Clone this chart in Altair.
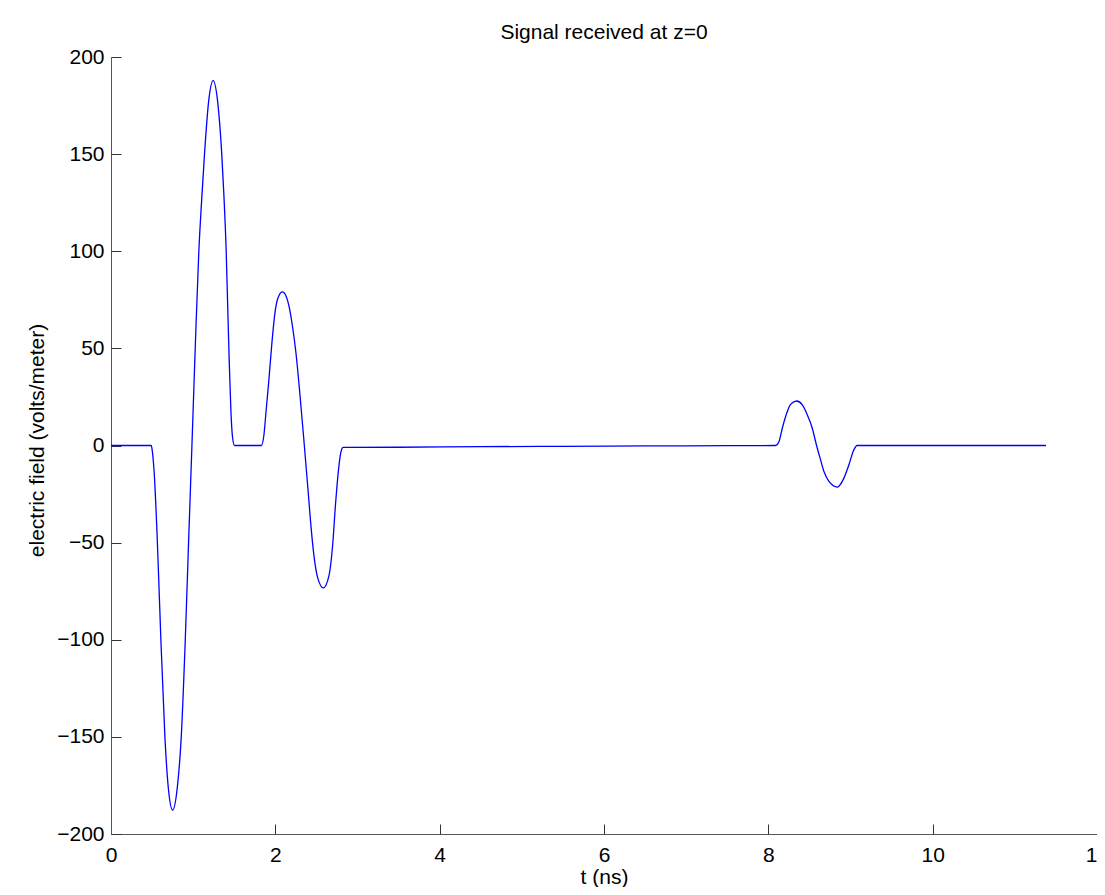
import altair as alt
import pandas as pd

# Time (ns) and electric field (volts/meter)
t_ns = [0.0, 0.49, 0.50, 0.515, 0.53, 0.545, 0.56, 0.575, 0.607, 0.656, 0.697, 0.75, 0.807,
        0.855, 0.904, 0.944, 0.985, 1.025, 1.069, 1.10, 1.138, 1.188, 1.243, 1.298,
        1.348, 1.375, 1.402, 1.42, 1.44, 1.46, 1.48, 1.503,
        1.83, 1.86, 1.887, 1.92, 1.956, 1.997, 2.025, 2.085, 2.13, 2.17, 2.21, 2.25,
        2.30, 2.353, 2.40, 2.441, 2.48, 2.515, 2.584, 2.653, 2.696, 2.733, 2.77,
        2.80, 2.826,
        2.9, 3.5, 4.5, 5.5, 6.5, 7.5, 8.09,
        8.13, 8.17, 8.231, 8.271, 8.345, 8.414, 8.475, 8.535, 8.587, 8.636,
        8.677, 8.738, 8.84, 8.92, 8.98, 9.04, 9.08, 11.38]
e_field = [0.0, 0.0, -2.0, -8.0, -17.0, -30.0, -45.0, -62.0, -100.0, -150.0, -176.0, -187.7, -176.0,
           -150.0, -100.0, -50.0, 0.0, 50.0, 100.0, 124.0, 150.0, 177.0, 187.8, 177.0,
           150.0, 128.0, 100.0, 72.0, 42.0, 17.0, 4.0, 0.0,
           0.0, 5.0, 17.5, 33.0, 51.7, 68.8, 75.0, 79.1, 77.0, 71.0, 61.0, 48.0,
           26.0, 0.0, -24.0, -45.0, -60.0, -68.0, -73.3, -67.0, -52.0, -30.0, -12.0,
           -3.0, -1.0,
           -1.0, -0.9, -0.6, -0.4, -0.2, -0.1, 0.0,
           2.0, 8.9, 17.5, 21.2, 22.9, 20.9, 15.7, 8.9, 0.0, -7.4,
           -13.4, -18.5, -21.4, -16.8, -10.0, -2.3, 0.0, 0.0]

x_ticks = [0, 2, 4, 6, 8, 10, 12]
y_ticks = [-200, -150, -100, -50, 0, 50, 100, 150, 200]

df = pd.DataFrame({"t": t_ns, "E": e_field})

PW, PH = 986, 777
PAD_L, PAD_T, PAD_R, PAD_B = 103, 49, 0, 53
FONT = "Arial"
FS = 21

xscale = alt.Scale(domain=[0, 12], nice=False, zero=False)
yscale = alt.Scale(domain=[-200, 200], nice=False, zero=False)

base = alt.Chart(df)

line = base.mark_line(color="#0000ff", strokeWidth=1.3, interpolate="monotone").encode(
    x=alt.X("t:Q", scale=xscale,
            axis=alt.Axis(orient="bottom", values=x_ticks, ticks=False, tickSize=0,
                          grid=False, domain=True, domainColor="#555555", domainWidth=1,
                          labelFont=FONT, labelFontSize=FS, labelColor="black",
                          labelBaseline="alphabetic", labelPadding=27,
                          labelFlush=False, labelOverlap=False,
                          title="t (ns)", titleFont=FONT, titleFontSize=FS,
                          titleFontWeight="normal", titleColor="black",
                          titleBaseline="alphabetic", titleY=49, titleX=PW / 2,
                          titleAlign="center")),
    y=alt.Y("E:Q", scale=yscale,
            axis=alt.Axis(orient="left", values=y_ticks, ticks=False, tickSize=0,
                          grid=False, domain=True, domainColor="#555555", domainWidth=1,
                          labelFont=FONT, labelFontSize=FS, labelColor="black",
                          labelPadding=7, labelFlush=False, labelOverlap=False,
                          title="electric field (volts/meter)", titleFont=FONT,
                          titleFontSize=FS, titleFontWeight="normal", titleColor="black",
                          titleAngle=270, titleBaseline="middle", titleAlign="center",
                          titleX=-74, titleY=383)),
)

tick_layer = base.mark_line(opacity=0).encode(
    x=alt.X("t:Q", scale=xscale,
            axis=alt.Axis(orient="top", offset=-PH, values=x_ticks, labels=False,
                          domain=False, ticks=True, tickSize=10,
                          tickColor="#333333", tickWidth=1, grid=False, title=None)),
    y=alt.Y("E:Q", scale=yscale,
            axis=alt.Axis(orient="right", offset=-PW, values=y_ticks, labels=False,
                          domain=False, ticks=True, tickSize=10,
                          tickColor="#333333", tickWidth=1, grid=False, title=None)),
)

chart = alt.layer(line, tick_layer).resolve_axis(
    x="independent", y="independent"
).properties(
    width=PW,
    height=PH,
    background="white",
    padding={"left": PAD_L, "top": PAD_T, "right": PAD_R, "bottom": PAD_B},
    autosize=alt.AutoSizeParams(type="none"),
    title=alt.TitleParams("Signal received at z=0", font=FONT, fontSize=FS,
                          fontWeight="normal", color="black", anchor="middle",
                          frame="group", baseline="alphabetic", offset=20, dy=34),
).configure_view(
    stroke="transparent", strokeWidth=0
).configure_axis(
    grid=False
)

chart.save("out.html", embed_options={"renderer": "svg", "actions": False})
